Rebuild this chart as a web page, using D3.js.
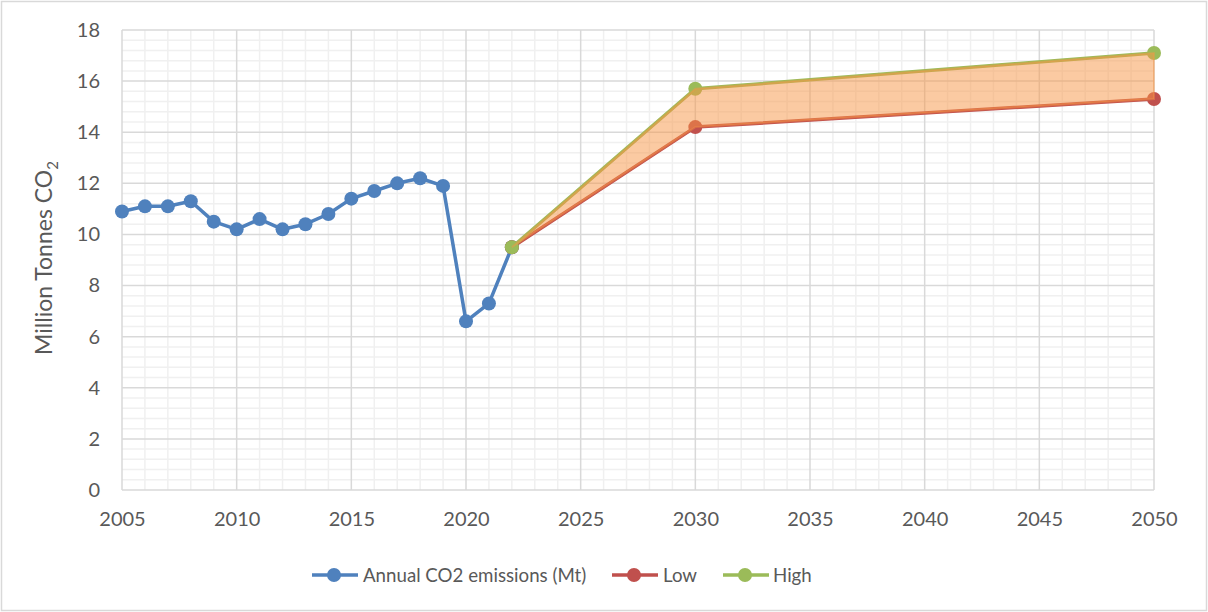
<!DOCTYPE html>
<html><head><meta charset="utf-8">
<script src="https://cdn.jsdelivr.net/npm/d3@7"></script>
<style>body{margin:0;background:#fff}svg{display:block}text{font-family:Lato,"Open Sans",sans-serif;fill:#595959}</style>
</head><body>
<script>
const years = [2005,2006,2007,2008,2009,2010,2011,2012,2013,2014,2015,2016,2017,2018,2019,2020,2021,2022];
const annual = [10.9,11.1,11.1,11.3,10.5,10.2,10.6,10.2,10.4,10.8,11.4,11.7,12.0,12.2,11.9,6.6,7.3,9.5];
const scenYears = [2022,2030,2050];
const low = [9.5,14.2,15.3];
const high = [9.5,15.7,17.1];
const xTicks = [2005,2010,2015,2020,2025,2030,2035,2040,2045,2050];
const yTicks = [0,2,4,6,8,10,12,14,16,18];
const seriesNames = ["Annual CO2 emissions (Mt)","Low","High"];
const colors = ["#4F81BD","#C0504D","#9BBB59"];

const W=1208,H=612;
const svg=d3.select("body").append("svg").attr("width",W).attr("height",H);
svg.append("rect").attr("x",1.5).attr("y",1.5).attr("width",W-3).attr("height",H-3).attr("fill","#fff").attr("stroke","#d9d9d9").attr("stroke-width",1.5);

const x=d3.scaleLinear().domain([2005,2050]).range([122,1154]);
const y=d3.scaleLinear().domain([0,18]).range([490,30]);

const g=svg.append("g");
const minorX=d3.range(2005,2051,1).filter(v=>v%5!==0);
const minorY=d3.range(0,18.01,0.4).map(v=>+v.toFixed(1)).filter(v=>Math.abs(v/2-Math.round(v/2))>1e-6);
g.selectAll(".mx").data(minorX).join("line").attr("x1",d=>x(d)).attr("x2",d=>x(d)).attr("y1",y(0)).attr("y2",y(18)).attr("stroke","#f0f0f0").attr("stroke-width",1.5);
g.selectAll(".my").data(minorY).join("line").attr("y1",d=>y(d)).attr("y2",d=>y(d)).attr("x1",x(2005)).attr("x2",x(2050)).attr("stroke","#f0f0f0").attr("stroke-width",1.5);
g.selectAll(".Mx").data(xTicks).join("line").attr("x1",d=>x(d)).attr("x2",d=>x(d)).attr("y1",y(0)).attr("y2",y(18)).attr("stroke","#d9d9d9").attr("stroke-width",1.5);
g.selectAll(".My").data(yTicks).join("line").attr("y1",d=>y(d)).attr("y2",d=>y(d)).attr("x1",x(2005)).attr("x2",x(2050)).attr("stroke","#d9d9d9").attr("stroke-width",1.5);

const xa=svg.append("g").attr("transform",`translate(0,${y(0)})`).call(d3.axisBottom(x).tickValues(xTicks).tickFormat(d3.format("d")).tickSize(0).tickPadding(22));
xa.select(".domain").remove();
xa.selectAll("text").attr("font-size",20).style("font-family","Lato,'Open Sans',sans-serif").attr("fill","#595959");
const ya=svg.append("g").attr("transform",`translate(${x(2005)},0)`).call(d3.axisLeft(y).tickValues(yTicks).tickSize(0).tickPadding(22));
ya.select(".domain").remove();
ya.selectAll("text").attr("font-size",20).style("font-family","Lato,'Open Sans',sans-serif").attr("fill","#595959");

const yt=svg.append("text").attr("transform","translate(52,258) rotate(-90)").attr("text-anchor","middle").attr("font-size",23);
yt.append("tspan").text("Million Tonnes CO");
yt.append("tspan").text("2").attr("font-size",15).attr("dy",6);

const line=d3.line().x(d=>x(d[0])).y(d=>y(d[1]));
function drawSeries(xs,vs,col){
  const pts=xs.map((v,i)=>[v,vs[i]]);
  svg.append("path").attr("d",line(pts)).attr("fill","none").attr("stroke",col).attr("stroke-width",3.5).attr("stroke-linejoin","round");
  svg.append("g").selectAll("circle").data(pts).join("circle").attr("cx",d=>x(d[0])).attr("cy",d=>y(d[1])).attr("r",7).attr("fill",col);
}
drawSeries(years,annual,colors[0]);
drawSeries(scenYears,low,colors[1]);
drawSeries(scenYears,high,colors[2]);

const area=d3.area().x((d,i)=>x(scenYears[i])).y0((d,i)=>y(low[i])).y1((d,i)=>y(high[i]));
svg.append("path").attr("d",area(scenYears)).attr("fill","rgba(247,150,70,0.5)").attr("stroke","rgba(247,150,70,0.4)").attr("stroke-width",2);

const leg=svg.append("g");
const legItems=[{x:312,tx:363},{x:612,tx:663},{x:723,tx:773}];
legItems.forEach((it,i)=>{
  leg.append("line").attr("x1",it.x).attr("x2",it.x+46).attr("y1",575).attr("y2",575).attr("stroke",colors[i]).attr("stroke-width",3.5);
  leg.append("circle").attr("cx",it.x+22).attr("cy",575).attr("r",7).attr("fill",colors[i]);
  leg.append("text").attr("x",it.tx).attr("y",582).attr("font-size",18.7).text(seriesNames[i]);
});
</script>
</body></html>
